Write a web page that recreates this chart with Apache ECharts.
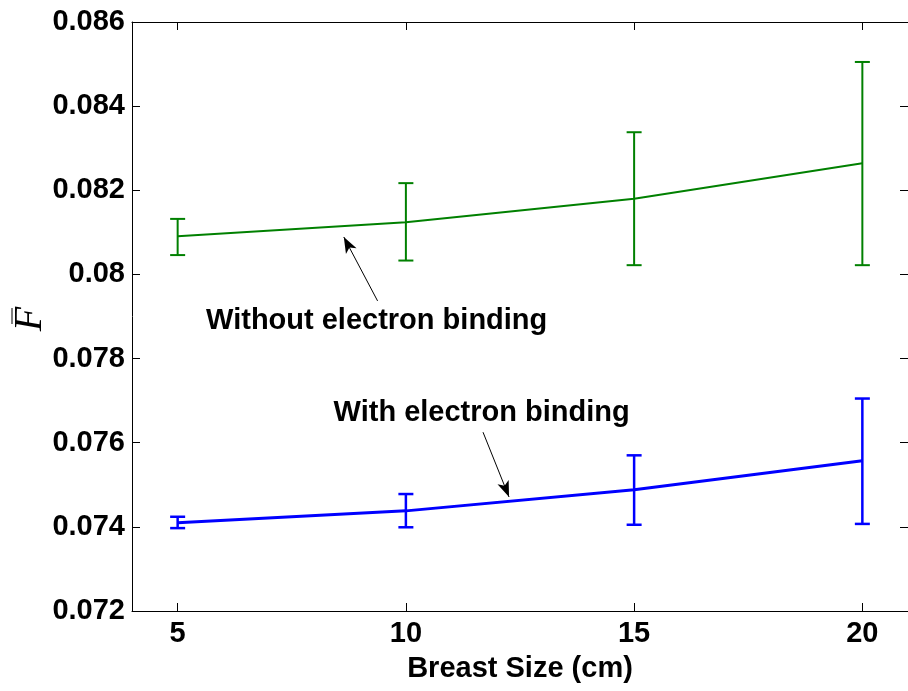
<!DOCTYPE html>
<html>
<head>
<meta charset="utf-8">
<script src="https://cdn.jsdelivr.net/npm/echarts@6/dist/echarts.min.js"></script>
<style>
  html, body { margin: 0; padding: 0; background: #fff; }
  #chart { width: 908px; height: 691px; }
</style>
</head>
<body>
<div id="chart"></div>
<script>
// Mean F values versus breast size, with error-bar bounds
const breastSizes = [5, 10, 15, 20];
const withoutBinding = [0.08091, 0.08124, 0.08180, 0.08264];
const withoutLow = [0.08046, 0.08033, 0.08022, 0.08022];
const withoutHigh = [0.08132, 0.08217, 0.08338, 0.08505];
const withBinding = [0.07410, 0.07438, 0.07488, 0.07557];
const withLow = [0.07397, 0.07399, 0.07405, 0.07407];
const withHigh = [0.07424, 0.07478, 0.07570, 0.07705];

const xTicks = [5, 10, 15, 20];
const yTickLabels = ['0.072', '0.074', '0.076', '0.078', '0.08', '0.082', '0.084', '0.086'];

// Annotation texts and arrow endpoints (data space: [size, F])
const annotations = [
  { text: 'Without electron binding', at: [9.36, 0.07889], tail: [9.38, 0.07937], head: [8.64, 0.08089] },
  { text: 'With electron binding', at: [11.66, 0.07671], tail: [11.69, 0.07625], head: [12.26, 0.07471] }
];

const GREEN = '#008000';
const BLUE = '#0000ff';
const FONT = 'Liberation Sans, Arial, sans-serif';

const chart = echarts.init(document.getElementById('chart'), null, { renderer: 'canvas' });

function errorBars(low, high, color, width) {
  return {
    type: 'custom',
    data: breastSizes.map((x, i) => [x, low[i], high[i]]),
    encode: { x: 0, y: [1, 2] },
    silent: true,
    z: 3,
    renderItem(params, api) {
      const x = api.value(0);
      const lo = api.coord([x, api.value(1)]);
      const hi = api.coord([x, api.value(2)]);
      const hw = 7.5;
      const style = { stroke: color, lineWidth: width, fill: null };
      return {
        type: 'group',
        children: [
          { type: 'line', shape: { x1: lo[0], y1: lo[1], x2: hi[0], y2: hi[1] }, style },
          { type: 'line', shape: { x1: lo[0] - hw, y1: lo[1], x2: lo[0] + hw, y2: lo[1] }, style },
          { type: 'line', shape: { x1: hi[0] - hw, y1: hi[1], x2: hi[0] + hw, y2: hi[1] }, style }
        ]
      };
    }
  };
}

function arrow(a) {
  return {
    silent: true,
    symbol: ['none', 'arrow'],
    symbolSize: [9, 16],
    label: { show: false },
    lineStyle: { color: '#000', width: 1, type: 'solid' },
    data: [[{ coord: a.tail }, { coord: a.head }]]
  };
}

const axisBase = {
  type: 'value',
  axisLine: { show: true, onZero: false, lineStyle: { color: '#000', width: 1 } },
  splitLine: { show: false }
};

const option = {
  animation: false,
  backgroundColor: '#fff',
  grid: { left: 132, top: 22, width: 780, height: 589, containLabel: false },
  xAxis: [
    Object.assign({}, axisBase, {
      position: 'bottom', min: 4, max: 21,
      axisTick: { inside: true, length: 8, customValues: xTicks, lineStyle: { color: '#000' } },
      axisLabel: { customValues: xTicks, fontSize: 29, fontWeight: 'bold', fontFamily: FONT, color: '#000', margin: 8 },
      name: 'Breast Size (cm)', nameLocation: 'middle', nameGap: 43,
      nameTextStyle: { fontSize: 29, fontWeight: 'bold', fontFamily: FONT, color: '#000' }
    }),
    Object.assign({}, axisBase, {
      position: 'top', min: 4, max: 21,
      axisTick: { inside: true, length: 8, customValues: xTicks, lineStyle: { color: '#000' } },
      axisLabel: { show: false }
    })
  ],
  yAxis: [
    Object.assign({}, axisBase, {
      position: 'left', min: 0.072, max: 0.086, interval: 0.002,
      axisTick: { inside: true, length: 8, lineStyle: { color: '#000' } },
      axisLabel: {
        fontSize: 29, fontWeight: 'bold', fontFamily: FONT, color: '#000', margin: 7,
        formatter: v => yTickLabels[Math.round((v - 0.072) / 0.002)]
      }
    }),
    Object.assign({}, axisBase, {
      position: 'right', min: 0.072, max: 0.086, interval: 0.002,
      axisTick: { inside: true, length: 8, lineStyle: { color: '#000' } },
      axisLabel: { show: false }
    })
  ],
  series: [
    {
      name: 'Without electron binding', type: 'line',
      data: breastSizes.map((x, i) => [x, withoutBinding[i]]),
      symbol: 'none', lineStyle: { color: GREEN, width: 2 }, z: 4,
      markLine: arrow(annotations[0])
    },
    errorBars(withoutLow, withoutHigh, GREEN, 2),
    {
      name: 'With electron binding', type: 'line',
      data: breastSizes.map((x, i) => [x, withBinding[i]]),
      symbol: 'none', lineStyle: { color: BLUE, width: 3 }, z: 4,
      markLine: arrow(annotations[1])
    },
    errorBars(withLow, withHigh, BLUE, 2.5)
  ]
};

chart.setOption(option);

// Annotation texts and the rotated F-bar axis label
const graphics = annotations.map(a => {
  const p = chart.convertToPixel({ gridIndex: 0 }, a.at);
  return {
    type: 'text', x: p[0], y: p[1], silent: true,
    style: { text: a.text, font: 'bold 29px ' + FONT, fill: '#000', align: 'center', verticalAlign: 'middle' }
  };
});
graphics.push({
  type: 'group', x: 30, y: 319, silent: true,
  children: [
    { type: 'text', rotation: Math.PI / 2,
      style: { text: 'F', font: 'italic 40px Liberation Serif, serif', fill: '#000', align: 'center', verticalAlign: 'middle' } },
    { type: 'line', shape: { x1: -18, y1: -11, x2: -18, y2: 5 }, style: { stroke: '#000', lineWidth: 1 } }
  ]
});
chart.setOption({ graphic: graphics });
</script>
</body>
</html>
